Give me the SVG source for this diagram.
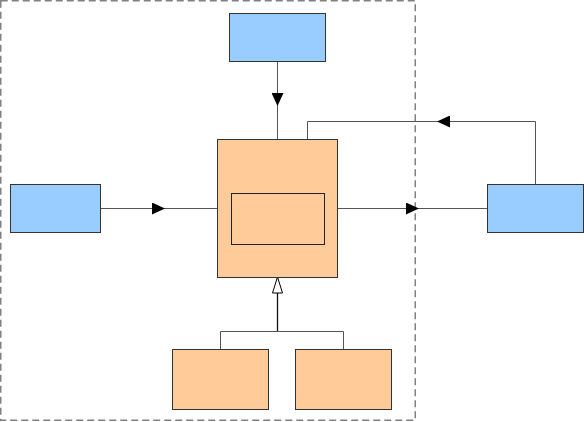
<svg xmlns="http://www.w3.org/2000/svg" width="584" height="422" viewBox="0 0 584 422">
<style>
.blue{fill:#99ccff;stroke:#333333;stroke-width:1}
.orange{fill:#ffcc99;stroke:#333333;stroke-width:1}
.inner{fill:#ffcc99;stroke:#222222;stroke-width:1}
.conn{fill:none;stroke:#555555;stroke-width:1}
.head{stroke:none;stroke-width:0}
.frame{fill:none;stroke:#808080;stroke-width:1.5;stroke-dasharray:7,4}
</style>
<defs>
<marker id="fill" markerWidth="13" markerHeight="12" refX="13" refY="6" orient="auto" markerUnits="userSpaceOnUse">
<path d="M0,0 L13,6 L0,12 Z" fill="#000000"/>
</marker>
<marker id="hollow" markerWidth="18" markerHeight="13" refX="17" refY="6" orient="auto" markerUnits="userSpaceOnUse">
<path d="M1,1 L17,6 L1,11 Z" fill="#ffffff" stroke="#000000" stroke-width="1"/>
</marker>
</defs>
<rect class="frame" x="0.75" y="0.75" width="414.5" height="419.5"/>
<g id="connectors">
<line class="conn" x1="277.5" y1="61" x2="277.5" y2="139" stroke="#222222"/>
<line class="head" x1="277.5" y1="61" x2="277.5" y2="106" marker-end="url(#fill)"/>
<line class="conn" x1="100" y1="208.5" x2="217" y2="208.5"/>
<line class="head" x1="100" y1="208.5" x2="165" y2="208.5" marker-end="url(#fill)"/>
<line class="conn" x1="337" y1="208.5" x2="487" y2="208.5"/>
<line class="head" x1="337" y1="208.5" x2="419" y2="208.5" marker-end="url(#fill)"/>
<polyline class="conn" points="535.5,184 535.5,121.5 307.5,121.5 307.5,139"/>
<line class="head" x1="535" y1="121.5" x2="437" y2="121.5" marker-end="url(#fill)"/>
<polyline class="conn" points="220.5,349 220.5,331.5 343.5,331.5 343.5,349"/>
<line x1="277.5" y1="331" x2="277.5" y2="277" stroke="#111111" stroke-width="1.3" marker-end="url(#hollow)"/>
</g>
<g id="top"><rect class="blue" x="229.5" y="13.5" width="96" height="48"/></g>
<g id="left"><rect class="blue" x="10.5" y="184.5" width="90" height="48"/></g>
<g id="right"><rect class="blue" x="487.5" y="184.5" width="96" height="48"/></g>
<g id="main"><rect class="orange" x="217.5" y="139.5" width="120" height="138"/>
<rect class="inner" x="231.5" y="193.5" width="93" height="51"/></g>
<g id="sub1"><rect class="orange" x="172.5" y="349.5" width="96" height="60"/></g>
<g id="sub2"><rect class="orange" x="295.5" y="349.5" width="96" height="60"/></g>
</svg>
